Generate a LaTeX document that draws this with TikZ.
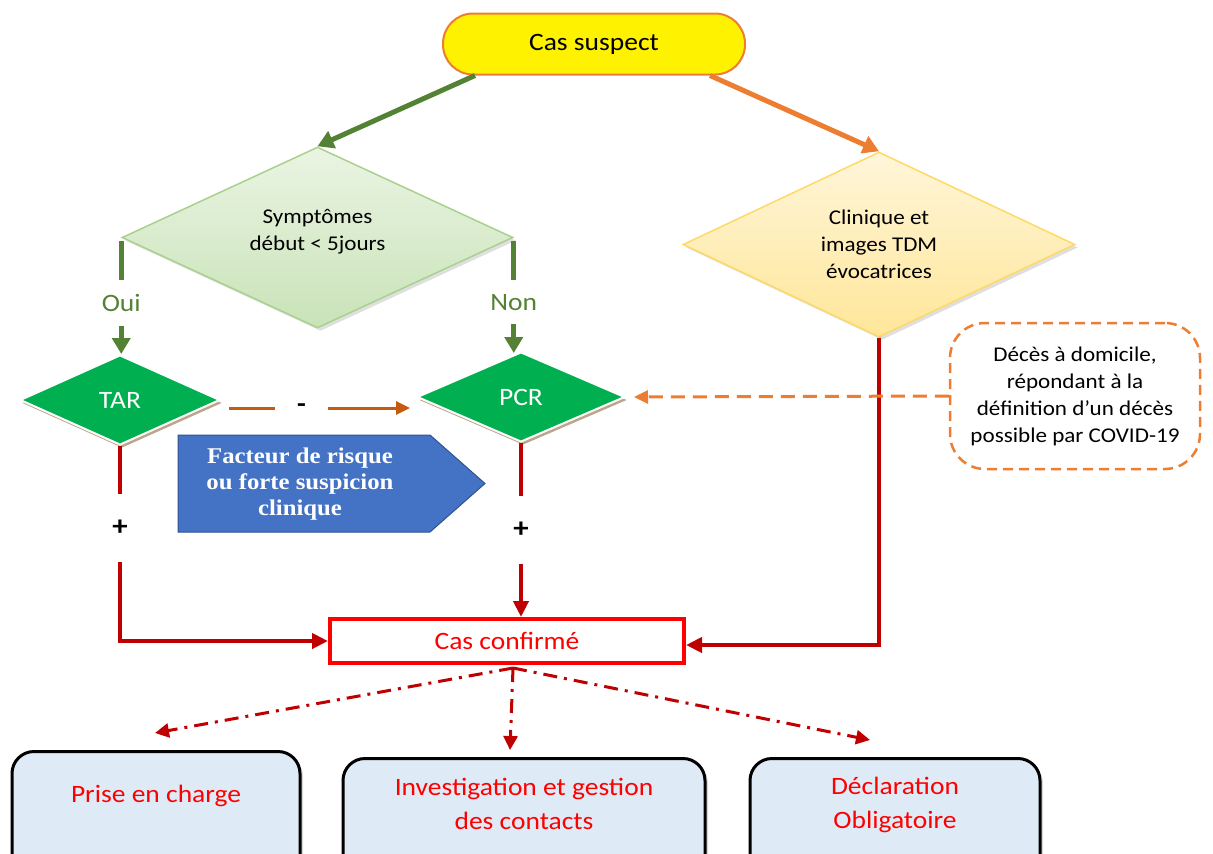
\documentclass[tikz,border=0pt]{standalone}
\usepackage{fontspec}
\setmainfont{Carlito}[FakeStretch=1.1]
\newfontfamily\boxserif{Liberation Serif}[FakeStretch=1.1]
\usetikzlibrary{shapes.geometric,arrows.meta,shadows,calc}

\definecolor{corange}{HTML}{ED7D31}
\definecolor{cbrown}{HTML}{C55A11}
\definecolor{dgreen}{HTML}{548235}
\definecolor{tgreen}{HTML}{00B050}
\definecolor{lgreenA}{HTML}{EAF4E3}
\definecolor{lgreenB}{HTML}{C9E3B8}
\definecolor{lgreenE}{HTML}{A9D18E}
\definecolor{lyelA}{HTML}{FFF6DA}
\definecolor{lyelB}{HTML}{FFE699}
\definecolor{lyelE}{HTML}{FFD966}
\definecolor{cblue}{HTML}{4472C4}
\definecolor{cblueE}{HTML}{2F528F}
\definecolor{dred}{HTML}{C00000}
\definecolor{pblue}{HTML}{DEEBF7}

\tikzset{
  startnode/.style={rectangle, rounded corners=30pt, draw=corange, line width=2pt,
    fill=yellow, minimum width=302pt, minimum height=61pt,
    font=\fontsize{25}{30}\selectfont},
  decision/.style={diamond, aspect=2.15, inner sep=0pt, align=center,
    font=\fontsize{21}{27}\selectfont,
    drop shadow={opacity=0.25, shadow xshift=3pt, shadow yshift=-3pt}},
  testnode/.style={diamond, aspect=2.2, inner sep=0pt, fill=tgreen, draw=white,
    line width=2pt, text=white, font=\fontsize{25}{28}\selectfont,
    drop shadow={fill=brown!70!black, opacity=0.55, shadow xshift=2pt, shadow yshift=-3pt}},
  confirmnode/.style={rectangle, draw=red, line width=4pt, fill=white, text=red,
    minimum width=354pt, minimum height=44pt, font=\fontsize{25}{30}\selectfont},
  notebox/.style={rectangle, rounded corners=35pt, draw=corange, line width=2.5pt,
    dash pattern=on 10pt off 6pt, align=center, minimum width=250pt,
    minimum height=146pt, font=\fontsize{21}{27}\selectfont},
  outcome/.style={rectangle, rounded corners=22pt, draw=black, line width=3pt,
    fill=pblue, minimum height=140pt, anchor=north,
    drop shadow={opacity=0.3, shadow xshift=3pt, shadow yshift=-3pt}},
  outtext/.style={align=center, text=red, font=\fontsize{25}{34}\selectfont},
  greenarrow/.style={draw=dgreen, line width=5pt, -{Triangle[length=16pt,width=18pt]}},
  orangearrow/.style={draw=corange, line width=5pt, -{Triangle[length=16pt,width=18pt]}},
  redarrow/.style={draw=dred, line width=4pt, -{Triangle[length=16pt,width=15pt]}},
  brownarrow/.style={draw=cbrown, line width=3pt, -{Triangle[length=14pt,width=13pt]}},
  notearrow/.style={draw=corange, line width=3pt, dash pattern=on 14pt off 8pt,
    -{Triangle[length=14pt,width=13pt]}},
  dasharrow/.style={draw=dred, line width=3pt,
    dash pattern=on 14pt off 7pt on 3pt off 7pt, -{Triangle[length=14pt,width=14pt]}},
  gap/.style={fill=white, inner xsep=2pt},
  branchlabel/.style={gap, inner ysep=14pt, text=dgreen, font=\fontsize{25}{28}\selectfont},
}

\begin{document}
\begin{tikzpicture}[x=1pt, y=-1pt]
  \useasboundingbox (0,0) rectangle (1213,854);
  \clip (0,0) rectangle (1213,854);

  % start
  \node[startnode] (cs) at (594,44) {Cas suspect};

  % first decisions
  \node[decision, top color=lgreenA, bottom color=lgreenB, draw=lgreenE, line width=1.5pt,
        minimum width=391pt, minimum height=181pt] (sym) at (317.5,237.5)
        {Symptômes\\début < 5jours\\[-11pt]\mbox{}};
  \node[decision, top color=lyelA, bottom color=lyelB, draw=lyelE, line width=1.5pt,
        minimum width=392pt, minimum height=185pt] (yd) at (879,244.5)
        {Clinique et\\images TDM\\évocatrices};

  % tests
  \node[testnode, minimum width=200pt, minimum height=90pt] (tar) at (120,400) {TAR};
  \node[testnode, minimum width=208pt, minimum height=90pt] (pcr) at (521,397) {PCR};

  % risk factor banner
  \draw[fill=cblue, draw=cblueE, line width=1pt]
    (178,435) -- (430,435) -- (485,483.5) -- (430,532) -- (178,532) -- cycle;
  \node[align=center, text=white, font=\boxserif\bfseries\fontsize{22.5}{26}\selectfont]
    (risk) at (300,484) {Facteur de risque\\ou forte suspicion\\clinique};

  % death at home note
  \node[notebox] (db) at (1075,396)
    {Décès à domicile,\\répondant à la\\définition d’un décès\\possible par COVID-19};

  % confirmed case
  \node[confirmnode] (cc) at (507,641) {Cas confirmé};

  % outcomes
  \node[outcome, minimum width=288pt] (b1) at (156,750) {};
  \node[outcome, minimum width=362pt] (b2) at (524,757) {};
  \node[outcome, minimum width=290pt] (b3) at (895,757) {};
  \node[outtext] (b1t) at ($(b1.north)+(0,46)$) {Prise en charge};
  \node[outtext] (b2t) at ($(b2.north)+(0,47)$) {Investigation et gestion\\des contacts};
  \node[outtext] (b3t) at ($(b3.north)+(0,48)$) {Déclaration\\Obligatoire};

  % connectors from the start
  \draw[greenarrow] ($(cs.south)+(-119,0)$) -- (sym.north);
  \draw[orangearrow] ($(cs.south)+(116,0)$) -- (yd.north);

  % yes / no branches
  \draw[greenarrow] ($(sym.west)+(0,3)$) --
    node[branchlabel, pos=0.55] (oui) {Oui}
    (sym.west |- tar.north);
  \draw[greenarrow] ($(sym.east)+(0,3)$) --
    node[branchlabel, pos=0.55] (non) {Non}
    ($(sym.east |- pcr.north)+(0,2)$);

  % negative TAR leads to PCR
  \coordinate (ta) at ($(tar.east)+(8,8)$);
  \draw[brownarrow] (ta) --
    node[gap, inner xsep=22pt, pos=0.4, font=\bfseries\fontsize{26}{28}\selectfont] (minus) {-}
    ($(ta -| pcr.west)+(-6,0)$);

  % positive results lead to confirmation
  \draw[redarrow] (tar.south) --
    node[gap, inner ysep=26pt, pos=0.42, font=\bfseries\fontsize{28}{30}\selectfont] (p1) {+}
    (tar.south |- cc.west) -- (cc.west);
  \draw[redarrow] (pcr.south) --
    node[gap, inner ysep=26pt, pos=0.5, font=\bfseries\fontsize{28}{30}\selectfont] (p2) {+}
    (pcr.south |- cc.north);
  \draw[redarrow] (yd.south) -- ($(yd.south |- cc.east)+(0,4)$) -- ($(cc.east)+(0,4)$);

  % note to PCR
  \draw[notearrow] (db.west) -- ($(pcr.east)+(8,0)$);

  % consequences of a confirmed case
  \coordinate (c0) at ($(cc.south)+(6,3)$);
  \coordinate (t1) at (155,733);
  \coordinate (t2) at (510,750);
  \coordinate (t3) at (870,740);
  \draw[dasharrow] (c0) -- (t1);
  \draw[dasharrow] (c0) -- (t2);
  \draw[dasharrow] (c0) -- (t3);
\end{tikzpicture}
\end{document}
